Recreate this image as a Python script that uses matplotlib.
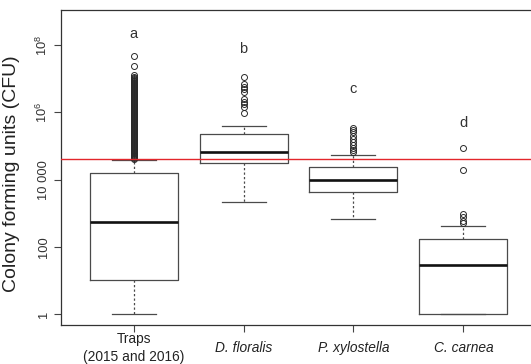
import matplotlib as mpl
import matplotlib.pyplot as plt

mpl.rcParams.update({
    "font.family": ["Liberation Sans", "DejaVu Sans"],
    "mathtext.fontset": "custom",
    "mathtext.rm": "Liberation Sans",
    "mathtext.it": "Liberation Sans:italic",
})

# Groups and summary statistics (CFU per sample)
groups = ["Traps\n(2015 and 2016)", "D. floralis", "P. xylostella", "C. carnea"]
italic = [False, True, True, True]
whislo = [1, 2100, 660, 1]
q1 = [10, 32000, 4400, 1]
med = [540, 68000, 9500, 28]
q3 = [16000, 234000, 24000, 166]
whishi = [38000, 400000, 54000, 410]

fliers_traps = [
    4.8e7, 2.4e7, 1.3e7, 1.1e7, 1.03e7, 9.6e6, 9.0e6, 8.4e6, 7.8e6, 7.3e6,
    6.8e6, 6.4e6, 6.0e6, 5.6e6, 5.2e6, 4.9e6, 4.6e6, 4.3e6, 4.0e6, 3.7e6,
    3.5e6, 3.25e6, 3.05e6, 2.85e6, 2.65e6, 2.5e6, 2.3e6, 2.15e6, 2.0e6,
    1.9e6, 1.75e6, 1.65e6, 1.55e6, 1.45e6, 1.35e6, 1.26e6, 1.18e6, 1.1e6,
    1.03e6, 9.6e5, 9.0e5, 8.4e5, 7.8e5, 7.3e5, 6.8e5, 6.4e5, 6.0e5, 5.6e5,
    5.2e5, 4.9e5, 4.6e5, 4.3e5, 4.0e5, 3.7e5, 3.5e5, 3.25e5, 3.05e5, 2.85e5,
    2.65e5, 2.5e5, 2.3e5, 2.15e5, 2.0e5, 1.9e5, 1.75e5, 1.65e5, 1.55e5,
    1.45e5, 1.35e5, 1.26e5, 1.18e5, 1.1e5, 1.03e5, 9.6e4, 9.0e4, 8.4e4,
    7.8e4, 7.3e4, 6.8e4, 6.4e4, 6.0e4, 5.6e4, 5.2e4, 4.9e4, 4.6e4, 4.3e4,
    4.0e4,
]
fliers_floralis = [1.15e7, 6.9e6, 5.9e6, 4.9e6, 4.2e6, 2.5e6, 2.1e6, 1.75e6,
                   1.5e6, 9.8e5]
fliers_xylostella = [3.4e5, 3.0e5, 2.6e5, 2.0e5, 1.6e5, 1.3e5, 1.1e5, 9.0e4,
                     7.5e4, 6.8e4]
fliers_carnea = [85000, 19500, 930, 760, 600, 500]
fliers = [fliers_traps, fliers_floralis, fliers_xylostella, fliers_carnea]

# significance letters and where they sit
letters = ["a", "b", "c", "d"]
letter_y = [2.1e8, 8.0e7, 5.0e6, 4.9e5]

threshold = 40000

yticks = [1, 100, 1e4, 1e6, 1e8]
ylabels = ["1", "100", "10 000", r"$\mathregular{10^6}$", r"$\mathregular{10^8}$"]

stats = [dict(whislo=a, q1=b, med=c, q3=d, whishi=e, fliers=f)
         for a, b, c, d, e, f in zip(whislo, q1, med, q3, whishi, fliers)]

LINE = "#4a4a4a"

fig = plt.figure(figsize=(5.31, 3.64), dpi=100)
ax = fig.add_axes([61 / 531, 39 / 364, 475 / 531, 315 / 364])
ax.set_yscale("log")

ax.bxp(stats, positions=range(1, 5), widths=0.8,
       boxprops=dict(color=LINE, linewidth=0.9),
       medianprops=dict(color="#111111", linewidth=1.9),
       whiskerprops=dict(color=LINE, linewidth=0.9, linestyle=(0, (1.8, 1.8))),
       capprops=dict(color=LINE, linewidth=0.9),
       capwidths=0.4,
       flierprops=dict(marker="o", markersize=4.3, markerfacecolor="none",
                       markeredgecolor="#2a2a2a", markeredgewidth=0.7))

ax.axhline(threshold, color="#e3262b", linewidth=1.0, zorder=5)

for i, (t, y) in enumerate(zip(letters, letter_y)):
    ax.text(i + 1, y, t, ha="center", va="center", fontsize=10.5, color="#333333")

ax.set_xlim(0.34, 4.66)
ax.set_ylim(10 ** -0.327, 10 ** 9.05)
ax.set_yticks(yticks)
ax.set_yticklabels(ylabels, rotation=90, va="center", fontsize=9.3, color="#333333")
ax.minorticks_off()
ax.set_xticks(range(1, 5))
ax.set_xticklabels(groups, fontsize=9.9, linespacing=1.3, va="center",
                   color="#222222")
for lab, it in zip(ax.get_xticklabels(), italic):
    if it:
        lab.set_fontstyle("italic")
ax.tick_params(axis="both", length=5, width=0.8, color="#444444", pad=3)
ax.tick_params(axis="x", pad=11.5)
ax.set_ylabel("Colony forming units (CFU)", fontsize=14, color="#222222")
ax.yaxis.set_label_coords(-0.086, 0.48)
for s in ax.spines.values():
    s.set_linewidth(0.9)
    s.set_color("#333333")

fig.savefig("out.png", dpi=100)
